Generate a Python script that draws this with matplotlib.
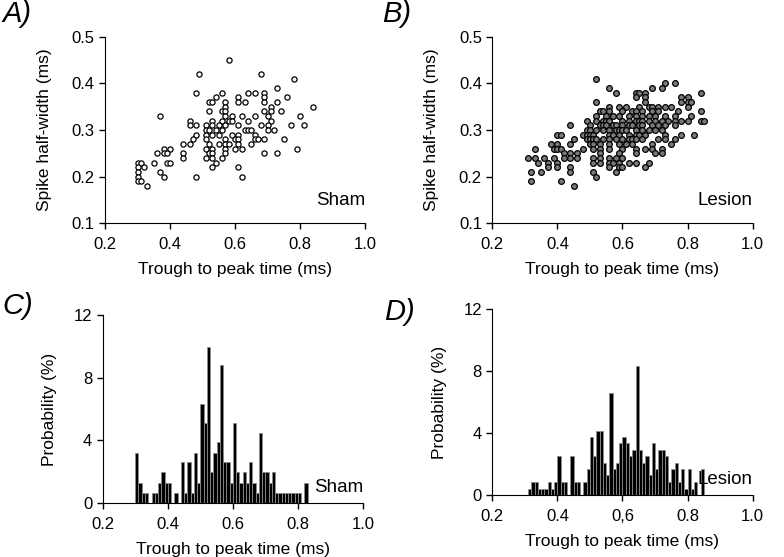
import numpy as np
import matplotlib
matplotlib.use("Agg")
import matplotlib.pyplot as plt

plt.rcParams['font.family'] = ['Liberation Sans', 'DejaVu Sans']

# Sham: spike half-width levels (ms) and the trough-to-peak times (ms) at each level
sham_hw = [0.45, 0.42, 0.41, 0.39, 0.38, 0.37, 0.36, 0.35, 0.34, 0.33, 0.32, 0.31,
           0.30, 0.29, 0.28, 0.27, 0.26, 0.25, 0.24, 0.23, 0.22, 0.21, 0.20, 0.19, 0.18]
sham_tp = [
    [0.58],
    [0.49, 0.68],
    [0.78],
    [0.73],
    [0.48, 0.56, 0.64, 0.66, 0.69],
    [0.54, 0.61, 0.69, 0.76],
    [0.52, 0.53, 0.57, 0.61, 0.63, 0.69, 0.73],
    [0.57, 0.71, 0.84],
    [0.52, 0.56, 0.57, 0.69, 0.71, 0.74],
    [0.37, 0.57, 0.59, 0.62, 0.66, 0.70, 0.80],
    [0.46, 0.53, 0.56, 0.58, 0.59, 0.64, 0.71],
    [0.46, 0.48, 0.51, 0.53, 0.55, 0.57, 0.61, 0.68, 0.70, 0.77, 0.81],
    [0.51, 0.52, 0.54, 0.56, 0.63, 0.64, 0.65, 0.70, 0.72],
    [0.48, 0.51, 0.53, 0.55, 0.59, 0.61, 0.66],
    [0.47, 0.51, 0.57, 0.60, 0.61, 0.66, 0.67, 0.69, 0.75],
    [0.44, 0.46, 0.52, 0.55, 0.57, 0.58, 0.61, 0.65],
    [0.38, 0.40, 0.51, 0.53, 0.57, 0.60, 0.62, 0.79],
    [0.36, 0.38, 0.39, 0.44, 0.52, 0.53, 0.57, 0.69, 0.73],
    [0.44, 0.51, 0.53, 0.56],
    [0.30, 0.31, 0.35, 0.39, 0.40, 0.54],
    [0.30, 0.32, 0.53, 0.61],
    [0.30, 0.37],
    [0.30, 0.38, 0.48, 0.62],
    [0.30, 0.31],
    [0.33],
]

# Lesion: same layout
lesion_hw = [0.41, 0.40, 0.39, 0.38, 0.37, 0.36, 0.35, 0.34, 0.33, 0.32, 0.31, 0.30,
             0.29, 0.28, 0.27, 0.26, 0.25, 0.24, 0.23, 0.22, 0.21, 0.20, 0.19, 0.18]
lesion_tp = [
    [0.52],
    [0.73, 0.76],
    [0.56, 0.69, 0.72],
    [0.58, 0.64, 0.65, 0.67, 0.84],
    [0.64, 0.67, 0.78, 0.80],
    [0.52, 0.67, 0.78, 0.80, 0.81],
    [0.56, 0.59, 0.61, 0.65, 0.68, 0.69, 0.71, 0.73, 0.75, 0.80],
    [0.53, 0.54, 0.56, 0.60, 0.63, 0.64, 0.66, 0.69, 0.71, 0.77, 0.84],
    [0.52, 0.55, 0.57, 0.59, 0.62, 0.64, 0.66, 0.68, 0.70, 0.73, 0.76, 0.81],
    [0.49, 0.52, 0.54, 0.55, 0.56, 0.60, 0.62, 0.64, 0.65, 0.66, 0.68, 0.70, 0.72,
     0.74, 0.76, 0.78, 0.80, 0.84, 0.85],
    [0.44, 0.50, 0.53, 0.54, 0.55, 0.57, 0.58, 0.60, 0.62, 0.63, 0.65, 0.66, 0.69,
     0.71, 0.73, 0.76],
    [0.49, 0.50, 0.52, 0.54, 0.56, 0.58, 0.59, 0.60, 0.61, 0.64, 0.66, 0.68, 0.70, 0.72],
    [0.40, 0.41, 0.48, 0.49, 0.50, 0.51, 0.56, 0.57, 0.59, 0.62, 0.64, 0.65, 0.67,
     0.73, 0.78, 0.82],
    [0.45, 0.49, 0.50, 0.51, 0.52, 0.54, 0.56, 0.58, 0.60, 0.62, 0.63, 0.64, 0.66,
     0.71, 0.73, 0.76],
    [0.38, 0.40, 0.44, 0.50, 0.51, 0.53, 0.56, 0.59, 0.61, 0.63, 0.69, 0.75],
    [0.33, 0.39, 0.40, 0.41, 0.48, 0.51, 0.53, 0.56, 0.60, 0.64, 0.67, 0.69, 0.72],
    [0.42, 0.44, 0.46, 0.53, 0.59, 0.64, 0.70, 0.72],
    [0.31, 0.33, 0.36, 0.39, 0.42, 0.44, 0.46, 0.51, 0.53, 0.56, 0.58, 0.60],
    [0.34, 0.37, 0.40, 0.51, 0.53, 0.56, 0.57, 0.59, 0.62, 0.64, 0.68],
    [0.37, 0.40, 0.44, 0.56, 0.59, 0.60, 0.67],
    [0.32, 0.35, 0.44, 0.51, 0.58],
    [0.52],
    [0.32, 0.41],
    [0.45],
]

# histograms: left bin edges (ms) and probability (%)
sham_bins = [0.30, 0.31, 0.32, 0.33, 0.34, 0.35, 0.36, 0.37, 0.38, 0.39, 0.40, 0.41,
             0.42, 0.43, 0.44, 0.45, 0.46, 0.47, 0.48, 0.49, 0.50, 0.51, 0.52, 0.53,
             0.54, 0.55, 0.56, 0.57, 0.58, 0.59, 0.60, 0.61, 0.62, 0.63, 0.64, 0.65,
             0.66, 0.67, 0.68, 0.69, 0.70, 0.71, 0.72, 0.73, 0.74, 0.75, 0.76, 0.77,
             0.78, 0.79, 0.80, 0.81, 0.82]
sham_prob = [3.2, 1.3, 0.65, 0.65, 0, 0.65, 0.65, 1.3, 2.0, 1.3, 1.3, 0,
             0.65, 0, 2.6, 0.65, 2.6, 0.65, 3.2, 1.3, 6.3, 5.1, 10.0, 2.0,
             3.2, 3.9, 8.8, 2.6, 2.6, 1.3, 5.1, 2.0, 1.3, 2.0, 1.3, 2.6,
             1.3, 0.65, 4.5, 2.0, 2.0, 1.3, 2.0, 0.65, 0.65, 0.65, 0.65, 0.65,
             0.65, 0.65, 0.65, 0, 1.3]

lesion_bins = [0.31, 0.32, 0.33, 0.34, 0.35, 0.36, 0.37, 0.38, 0.39, 0.40, 0.41, 0.42,
               0.43, 0.44, 0.45, 0.46, 0.47, 0.48, 0.49, 0.50, 0.51, 0.52, 0.53, 0.54,
               0.55, 0.56, 0.57, 0.58, 0.59, 0.60, 0.61, 0.62, 0.63, 0.64, 0.65, 0.66,
               0.67, 0.68, 0.69, 0.70, 0.71, 0.72, 0.73, 0.74, 0.75, 0.76, 0.77, 0.78,
               0.79, 0.80, 0.81, 0.82, 0.83, 0.84]
lesion_prob = [0.42, 0.84, 0.84, 0.42, 0.42, 0.42, 0.84, 0.42, 0.84, 2.54, 0.84, 0.84,
               0, 2.54, 0.84, 0.84, 0, 0.84, 1.68, 3.74, 2.54, 4.17, 4.17, 2.1,
               1.31, 6.62, 1.68, 2.1, 3.35, 3.74, 3.35, 2.54, 2.92, 8.3, 2.92, 2.1,
               2.54, 1.31, 3.35, 1.68, 2.92, 2.92, 2.54, 0.84, 1.68, 2.1, 0.84, 1.68,
               0.42, 1.68, 0.42, 0.84, 0, 1.68]

xticks = [0.2, 0.4, 0.6, 0.8, 1.0]
xtick_labels = ["0.2", "0.4", "0.6", "0.8", "1.0"]
xtick_labels_d = ["0.2", "0.4", "0,6", "0.8", "1.0"]
xlabel = "Trough to peak time (ms)"


def expand(levels, groups):
    xs, ys = [], []
    for y, row in zip(levels, groups):
        for x in row:
            xs.append(x)
            ys.append(y)
    return xs, ys


def style(ax, labels):
    ax.spines['top'].set_visible(False)
    ax.spines['right'].set_visible(False)
    ax.tick_params(direction='out', length=4, width=1, labelsize=12)
    ax.tick_params(axis='x', pad=6)
    ax.set_xlim(0.2, 1.0)
    ax.set_xticks(xticks)
    ax.set_xticklabels(labels)
    ax.set_xlabel(xlabel, fontsize=12.5, labelpad=7)


fig = plt.figure(figsize=(7.84, 5.57), dpi=100)
axA = fig.add_axes([0.134, 0.599, 0.332, 0.335])
axB = fig.add_axes([0.628, 0.599, 0.332, 0.335])
axC = fig.add_axes([0.131, 0.097, 0.332, 0.337])
axD = fig.add_axes([0.628, 0.111, 0.332, 0.334])

# scatter panels
sx, sy = expand(sham_hw, sham_tp)
axA.scatter(sx, sy, s=14, facecolors='white', edgecolors='black', linewidths=0.9, zorder=3)
lx, ly = expand(lesion_hw, lesion_tp)
axB.scatter(lx, ly, s=17, facecolors='#7a7a7a', edgecolors='black', linewidths=0.9, zorder=3)

for ax, name in ((axA, "Sham"), (axB, "Lesion")):
    style(ax, xtick_labels)
    ax.set_ylim(0.1, 0.5)
    ax.set_yticks([0.1, 0.2, 0.3, 0.4, 0.5])
    ax.set_yticklabels(["0.1", "0.2", "0.3", "0.4", "0.5"])
    ax.set_ylabel("Spike half-width (ms)", fontsize=12.5, labelpad=14)
    ax.text(1.0, 0.12, name, transform=ax.transAxes,
            fontsize=13.5, ha='right', va='center')

# histogram panels
for ax, bins, prob, name, labels in ((axC, sham_bins, sham_prob, "Sham", xtick_labels),
                                     (axD, lesion_bins, lesion_prob, "Lesion", xtick_labels_d)):
    keep = [i for i, p in enumerate(prob) if p > 0]
    ax.bar([bins[i] for i in keep], [prob[i] for i in keep], width=0.01, align='edge',
           color='black', edgecolor='#8c8c8c', linewidth=0.6, zorder=3)
    style(ax, labels)
    ax.set_ylim(0, 12)
    ax.set_yticks([0, 4, 8, 12])
    ax.set_ylabel("Probability (%)", fontsize=12.5, labelpad=12)
    ax.text(1.0, 0.085, name, transform=ax.transAxes,
            fontsize=13.5, ha='right', va='center')

for lab, x, y in (("A)", 0.003, 1.0), ("B)", 0.488, 1.0), ("C)", 0.003, 0.475), ("D)", 0.49, 0.465)):
    fig.text(x, y, lab, fontsize=21, fontstyle='italic', ha='left', va='top')

fig.savefig("out.png", dpi=100)
